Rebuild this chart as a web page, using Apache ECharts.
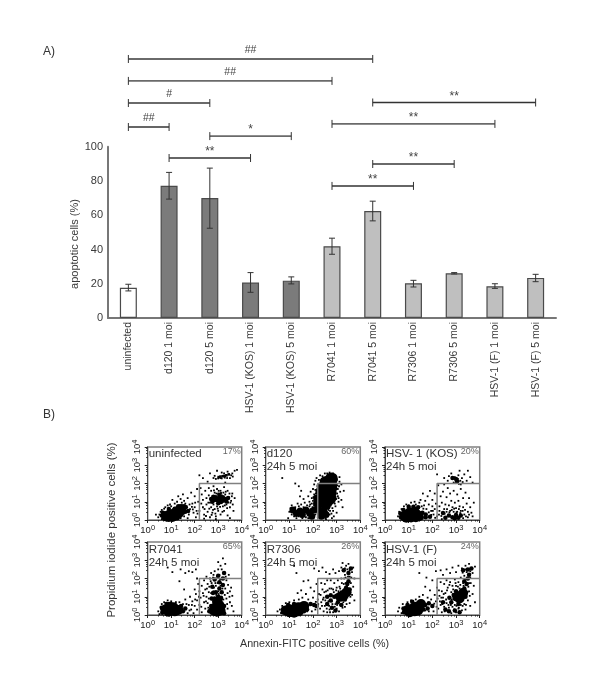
<!DOCTYPE html>
<html><head><meta charset="utf-8"><style>html,body{margin:0;padding:0;background:#fff}#c{width:600px;height:676px}</style>
<script src="https://cdn.jsdelivr.net/npm/echarts@6/dist/echarts.min.js"></script></head>
<body><div id="c"></div><script>
const categories=['uninfected','d120 1 moi','d120 5 moi','HSV-1 (KOS) 1 moi','HSV-1 (KOS) 5 moi','R7041 1 moi','R7041 5 moi','R7306 1 moi','R7306 5 moi','HSV-1 (F) 1 moi','HSV-1 (F) 5 moi'];
const values=[17.7,77.2,70,20.7,21.8,41.9,62.4,20.3,26.1,18.5,23.4];
const errLow=[15.8,69.4,52.4,15,19.9,37.2,56.7,18.1,25.7,17.3,21.2];
const errHigh=[19.7,85,87.5,26.5,24,46.6,68.2,22,26.5,20,25.5];
const yTicks=[0,20,40,60,80,100];
// significance brackets: from category, to category, level on the % scale, mark, dark?
const brackets=[[0,6,151.2,'##',0],[0,5,138.4,'##',0],[0,2,125.5,'#',0],[0,1,111.5,'##',1],[2,4,106.2,'*',0],[1,3,93.4,'**',1],
[6,10,125.8,'**',1],[5,9,113.3,'**',0],[6,8,89.9,'**',0],[5,7,77.1,'**',1]];
const panelNames=['uninfected','d120','HSV- 1 (KOS)','R7041','R7306','HSV-1 (F)'];
const panelPct=['17%','60%','20%','65%','26%','24%'];
const panelSub=['','24h 5 moi','24h 5 moi','24h 5 moi','24h 5 moi','24h 5 moi'];
const decades=[0,1,2,3,4];
// flow cytometry events in decades (log10 Annexin, log10 PI)
const p1Core=[[.78,.2],[.9,.28],[1,.3],[1.12,.35],[1.22,.45],[1.35,.55],[1.42,.6],[.88,.16],[1.05,.16],[1.2,.24],[1.32,.36]];
const p1Mid=[[.6,.25],[.65,.4],[.75,.05],[1.55,.75],[1.5,.4],[1.3,.75],[1.15,.62],[.9,.6],[2.7,1.15],[2.75,1],[2.9,1.25],[3,.92],[3.2,1.25],[3.35,1.02],[3.42,1.2],[3.05,1.38],[2.8,1.28],[2.85,1.1],[2.98,1.08],[3.1,1.12],[3.2,1.05],[3.3,1.15],[3.05,1.22],[3.12,.98],[1.6,.45],[1.72,.5],[1.62,.7]];
const p1Thin=[[3.02,2.35],[3.1,2.38],[3.2,2.4],[3.28,2.42],[3.35,2.45],[3.45,2.5]];
const p1Dots=[[.35,.3],[.45,.15],[.5,.3],[.55,.45],[.6,.05],[.6,.55],[.65,.35],[.7,.62],[.75,.7],[.8,.05],[.85,.8],[.95,.85],[1,.75],[1.05,1.1],[1.15,.9],[1.25,1],[1.3,1.3],[1.4,1.15],[1.45,.95],[1.5,1.4],[1.55,1.05],[1.6,.9],[1.65,.75],[1.7,1.2],[1.75,.3],[1.8,.6],[1.85,1.5],[1.9,.9],[1.95,.4],[2,1.3],[2,.7],[2.05,.15],[2.1,1.7],[2.15,1],[2.2,.5],[1.4,.1],[1.55,.2],[1.7,.1],[2.25,1.75],[2.3,1.4],[2.35,1.1],[2.35,.7],[2.4,.3],[2.45,1.6],[2.5,1.2],[2.5,.85],[2.55,.45],[2.6,1.75],[2.6,1.35],[2.65,.95],[2.65,.15],[2.7,1.6],[2.7,.7],[2.75,1.3],[2.75,.4],[2.8,1.85],[2.8,.85],[2.85,1.5],[2.85,.6],[2.9,.2],[2.95,1.7],[2.95,.75],[3,1.45],[3,.5],[3.05,.9],[3.1,1.6],[3.1,.3],[3.15,1.35],[3.2,.75],[3.25,1.8],[3.25,.5],[3.3,1.4],[3.35,.85],[3.4,1.6],[3.4,.25],[3.45,1.25],[3.5,.7],[3.55,1.05],[3.6,1.45],[3.65,.5],[3.7,1.2],[2.55,2.1],[2.65,2.55],[2.8,2.3],[2.9,2.25],[2.95,2.7],[3.1,2.3],[3.15,2.6],[3.28,2.32],[3.4,2.65],[3.5,2.3],[3.6,2.55],[3.7,2.7],[3.8,2.75],[2.35,2.3],[2.2,2.45],[3.3,2.05],[2.9,.05],[3.5,.1],[2.4,.08],[1.78,.85],[1.88,.72],[1.92,.58],[2.02,.95],[2.08,.5],[2.12,.35],[2.28,.9],[2.42,.6],[2.48,.22],[2.58,.95],[2.62,.62],[2.68,1.15],[2.72,.28],[2.78,.55],[2.82,1.62],[2.88,.35],[2.92,1.45],[2.98,.62],[3.02,1.6],[3.08,.72],[3.12,1.48],[3.18,.45],[3.22,1.5],[3.28,.8],[3.32,1.55],[3.38,.65],[3.42,.95],[3.48,1.45],[3.52,.95],[3.58,1.3],[3.62,.85],[2.85,2.42],[3,2.28],[3.15,2.28],[3.25,2.55],[3.38,2.3],[3.55,2.45],[3.62,2.38]];
const p2Core=[[2.55,2.05],[2.72,2.05],[2.78,2.25],[2.6,1.85],[2.75,1.75],[2.6,1.6],[2.5,1.55],[2.65,1.45],[2.72,1.2],[2.5,1.25],[2.62,1.1],[2.45,1.05]];
const p2Mid=[[2.15,.9],[2.2,.65],[2.3,.4],[2.35,.2],[2.45,.55],[2.55,.3],[2.6,.75],[2.15,1.2],[2.25,1.55],[2.3,1.85],[2.45,2.15],[2.88,1.9],[2.85,1.5],[1.15,.55],[1.3,.35],[1.45,.5],[1.55,.3],[1.7,.55],[1.85,.4],[1.95,.2],[2.05,.55]];
const p2Dots=[[.7,2.3],[1.2,.2],[1,.45],[1.05,.65],[1.1,.3],[1.25,.7],[1.3,.1],[1.4,.75],[1.4,.2],[1.5,.85],[1.55,.1],[1.6,.7],[1.65,.95],[1.7,.15],[1.75,.8],[1.8,1.3],[1.8,.1],[1.85,1],[1.85,.75],[1.9,1.55],[1.9,.6],[1.95,1.2],[1.95,.9],[2,1.7],[2,.1],[2,1.05],[2.05,1.95],[2.05,1.4],[2.05,.8],[2.1,2.15],[2.1,.3],[2.1,1.65],[2.15,2.3],[2.2,1.9],[2.2,.15],[2.25,2.2],[2.3,2.45],[2.3,.75],[2.4,2.4],[2.45,.15],[2.5,2.55],[2.55,.05],[2.6,2.55],[2.65,.55],[2.7,.3],[2.7,2.6],[2.75,.8],[2.8,.1],[2.85,2.55],[2.85,.5],[2.95,2.4],[3,2.2],[3.02,1.9],[3.05,1.7],[3.05,1.3],[3.08,1],[2.95,.75],[3,.4],[3.12,2.35],[3.15,1.55],[3.2,1.95],[3.2,1.1],[3.25,.7],[3.3,1.6],[1.25,2],[1.4,1.85],[1.5,1.6],[.95,.1],[1.6,1.15],[1.45,1.3],[1.1,.8],[1.2,.45],[1.35,.9],[1.5,.2],[1.62,.45],[1.78,.25],[1.88,.85],[1.92,.3],[1.98,.7],[2.02,1.25],[2.08,.45],[2.12,1.45],[2.18,1.7],[2.22,.35],[2.28,1.3],[2.32,.55],[2.38,.7],[2.42,.3],[2.48,.8],[2.52,.1],[2.58,.45],[2.62,.2],[2.68,.72],[2.72,.5],[2.78,.35],[2.82,.65],[2.88,.2],[2.92,.9],[2.98,1.15],[3.02,1.45],[3,1.7],[3.1,1.85],[3.12,2.1],[3.08,1.2]];
const p3Core=[[.82,.2],[.95,.3],[1.05,.42],[1.15,.28],[1.25,.45],[1.35,.3],[.9,.12],[1.1,.14],[1.3,.15],[1.42,.2]];
const p3Mid=[[.68,.15],[.65,.35],[.78,.55],[1.58,.4],[1.72,.3],[1.9,.18],[1.55,.12],[1.72,.15],[2.55,.12],[2.7,.25],[2.85,.15],[3,.28],[3.1,.12],[3.2,.25],[2.45,.38],[2.95,.1],[3.05,2.12],[3,2.25],[2.85,2.3],[1.2,.72],[1.4,.7],[1,.72]];
const p3Dots=[[.55,.2],[.6,.45],[.65,.1],[.7,.6],[.8,.75],[.9,.85],[1,.8],[1.1,.95],[1.25,1],[1.3,.85],[1.45,.95],[1.5,1.1],[1.55,.75],[1.6,1.45],[1.65,.8],[1.7,1.05],[1.75,.6],[1.8,1.3],[1.85,.85],[1.9,1.6],[1.95,.5],[2,1.1],[2,.75],[2.05,.3],[2.1,1.45],[2.1,.6],[2.15,.9],[2.2,.2],[2.25,1.9],[2.3,.75],[2.3,.5],[2.35,1.3],[2.4,.95],[2.45,1.55],[2.5,.6],[2.5,1.95],[2.55,.85],[2.6,1.25],[2.6,.45],[2.65,1.75],[2.7,.8],[2.75,1.45],[2.75,.5],[2.8,1.05],[2.85,.7],[2.9,1.6],[2.9,.45],[2.95,.95],[3,.65],[3.05,1.4],[3.05,.45],[3.1,1.05],[3.15,.75],[3.2,1.7],[3.2,.5],[3.3,1.2],[3.3,.7],[3.35,.3],[3.4,1.5],[3.45,.9],[3.5,.45],[3.55,1.2],[3.6,.7],[3.7,.2],[3.75,.95],[2.5,2.3],[2.65,2.15],[2.7,2.4],[2.8,2.55],[2.9,2.05],[3.1,2.45],[3.15,2.7],[3.2,1.95],[3.25,2.3],[3.35,2.5],[3.45,2.15],[3.5,2.7],[3.6,2.35],[3.7,2.05],[2.2,2.5],[2.4,.05],[2.9,.05],[3.3,.1],[3.5,.15],[1.62,.62],[1.85,.42],[1.95,.28],[2.02,.5],[2.12,.12],[2.28,.3],[2.38,.22],[2.52,.35],[2.62,.6],[2.72,.42],[2.82,.55],[2.92,.62],[3.02,.42],[3.12,.6],[3.18,.38],[3.28,.5],[3.38,.55],[3.42,.2],[3.55,.3],[3.65,.4],[2.95,2.35],[2.98,2.02],[3.08,2.25],[3.12,1.98],[3.18,2.15],[3.28,2.08]];
const p4Core=[[.75,.3],[.88,.18],[1,.3],[1.15,.2],[1.3,.28],[.95,.45],[1.1,.42],[2.8,.25],[2.95,.18],[3.1,.25],[2.9,.42],[3.05,.55],[2.95,.72]];
const p4Mid=[[1.5,.2],[1.6,.35],[.62,.12],[.6,.4],[1.42,.5],[.8,.6],[2.62,.2],[2.7,.5],[2.85,.9],[3,1],[3.1,.85],[2.9,1.25],[3.05,1.45],[3.15,1.25],[3.2,1.65],[3.05,1.8],[3.2,2],[3.25,2.3],[3.25,.1],[3.25,.5],[2.75,1.55],[2.85,1.95],[2.72,.9],[2.78,1.2],[3,2.15],[3.12,.95]];
const p4Dots=[[.45,.2],[.5,.05],[.55,.45],[.6,.6],[.7,.7],[.85,.8],[1,.75],[1.2,.7],[1.35,.7],[1.5,.6],[1.6,.85],[1.7,.1],[1.75,.55],[1.8,1],[1.85,.3],[1.9,.75],[1.95,.1],[2,.5],[2,1.4],[2.05,1.15],[2.1,.8],[2.1,.3],[2.15,1.7],[2.2,.55],[2.2,1.3],[2.25,.95],[2.3,.15],[2.3,1.6],[2.35,1.2],[2.4,.7],[2.4,1.9],[2.45,.35],[2.45,1.4],[2.5,1],[2.5,2.1],[2.55,.65],[2.55,1.7],[2.6,1.25],[2.6,.9],[2.65,2],[2.7,1.2],[2.7,2.3],[2.75,.85],[2.8,1.3],[2.8,2.2],[2.85,2.4],[2.9,1.6],[2.95,2.1],[3,2.5],[3,1.3],[3.05,2.2],[3.1,2.7],[3.1,1.6],[3.15,2.5],[3.3,1.45],[3.35,1.9],[3.35,.9],[3.4,1.2],[3.4,.35],[3.45,2.2],[3.5,.7],[3.55,1.5],[.85,2.6],[1.05,2.35],[1.4,2.5],[1.6,2.3],[1.75,2.4],[1.9,2.35],[2.05,2.5],[2.1,2],[3.2,3.1],[3,2.9],[3.65,.2],[3.3,2.8],[1.35,1.85],[1.55,1.4],[1.65,.6],[1.78,.25],[1.88,.55],[2.02,.85],[2.18,1],[2.28,.45],[2.38,1.05],[2.48,.75],[2.52,1.45],[2.58,.4],[2.62,1.55],[2.68,1.85],[2.72,1.75],[2.78,2.05],[2.82,1.5],[2.88,1.75],[2.92,1.1],[2.98,1.75],[3.02,1.15],[3.08,1.95],[3.12,1.75],[3.18,1.45],[3.22,.85],[3.28,1.1],[3.32,2.1],[3.38,.6],[3.42,1.65],[3.48,1],[3.5,1.3],[3.58,.5],[3.6,1.05]];
const p5Core=[[.85,.25],[1,.32],[1.12,.22],[1.25,.35],[1.38,.42],[1.5,.4],[1.62,.5],[1,.15],[1.2,.12],[1.4,.2],[3.15,1],[3.3,1.1],[3.42,1.25]];
const p5Mid=[[.72,.15],[.75,.35],[.95,.55],[1.2,.6],[1.75,.5],[1.9,.6],[2.05,.55],[2.15,.5],[1.75,.3],[1.62,.2],[2.6,1],[2.75,1.08],[2.9,1],[3,1.05],[3.4,1.5],[3.45,1.7],[3.5,1.85],[3.4,1.35],[3.5,2.3],[3.6,2.55],[3.3,2.45],[3.55,1.4],[3.35,.85],[3.05,.7],[2.8,.4],[2.95,.25],[2.6,.6],[2.75,.8],[3.2,.55]];
const p5Dots=[[.5,.2],[.6,.3],[.65,.1],[.7,.5],[.85,.65],[1,.7],[1.2,.8],[1.4,.85],[1.55,.95],[1.7,1.15],[1.75,.2],[1.8,.85],[1.9,1.5],[1.95,.2],[2,.95],[2.05,1.3],[2.1,.3],[2.15,1.7],[2.2,.85],[2.25,1.15],[2.3,.35],[2.35,1.75],[2.35,.7],[2.4,1.4],[2.45,.95],[2.45,.2],[2.5,1.7],[2.5,.5],[2.55,1.3],[2.6,.15],[2.6,1.9],[2.65,.75],[2.7,1.45],[2.7,.3],[2.75,1.9],[2.8,.75],[2.85,1.4],[2.85,.15],[2.9,1.75],[2.95,.6],[3,1.5],[3,.35],[3.05,1.9],[3.1,.2],[3.15,1.45],[3.15,.55],[3.2,2],[3.2,.8],[3.25,.4],[3.3,1.7],[3.35,2.2],[3.35,.45],[3.4,2.7],[3.45,.95],[3.5,1.15],[3.55,.65],[3.55,2.1],[3.6,1.75],[3.65,2.35],[3.65,1.1],[3.7,1.55],[3.75,2],[3.75,.8],[2.4,2.6],[2.55,2.35],[2.7,2.25],[2.85,2.5],[2.95,2.3],[3.1,2.4],[3.2,2.6],[3.25,2.85],[3.5,2.8],[3.7,2.6],[1.3,2.3],[1.2,2.7],[1.6,1.85],[1.8,1.9],[2.05,2.55],[2.25,2.4],[1.5,1.35],[1.35,1.2],[2.12,.72],[2.22,.6],[2.32,1.1],[2.38,.5],[2.42,.85],[2.48,1.25],[2.52,.8],[2.58,.35],[2.62,1.35],[2.68,.5],[2.72,.15],[2.78,1.45],[2.82,.6],[2.88,1.25],[2.92,.45],[2.98,1.35],[3.02,.55],[3.08,1.3],[3.12,1.55],[3.18,1.3],[3.22,1.75],[3.28,1.35],[3.28,.7],[3.32,2],[3.38,1.75],[3.38,2.05],[3.42,.6],[3.48,2.1],[3.52,1.45],[3.58,1],[3.62,2.05],[3.45,2.5],[3.35,2.55],[3.55,2.45]];
const p6Core=[[.95,.25],[1.08,.3],[1.2,.38],[1.32,.45],[1.45,.5],[1.52,.6],[1.05,.15],[1.25,.2],[1.4,.25],[3.05,1],[3.2,1.05],[3.3,1.2],[3.15,.9]];
const p6Mid=[[.8,.15],[.78,.35],[.95,.55],[1.15,.72],[1.7,.55],[1.85,.65],[2,.5],[1.62,.3],[1.8,.35],[2.9,1.1],[3,1.3],[3.35,1.45],[3.45,1.7],[3.5,2],[3.55,2.2],[3.3,2.45],[3.5,2.5],[3.65,2.55],[3.4,1],[3.1,.6],[2.8,.7],[2.55,.3],[2.7,.2],[2.95,.25],[3.15,.15],[2.45,.7],[3.35,1.85],[2.72,.95]];
const p6Dots=[[.55,.2],[.6,.4],[.7,.1],[.75,.6],[.85,.45],[.95,.7],[1.1,.8],[1.3,.85],[1.45,1],[1.6,1.1],[1.7,.25],[1.8,.95],[1.85,.2],[1.9,1.35],[1.95,.85],[2.05,.2],[2.1,1.1],[2.15,.75],[2.2,1.5],[2.25,.35],[2.3,1.05],[2.35,1.8],[2.35,.55],[2.4,1.3],[2.4,.15],[2.45,.95],[2.5,1.7],[2.5,.45],[2.55,1.2],[2.6,1.9],[2.6,.65],[2.65,1.5],[2.7,.95],[2.7,.4],[2.75,1.8],[2.8,1.25],[2.8,.1],[2.85,.45],[2.85,1.6],[2.9,.85],[2.95,1.95],[2.95,.55],[3,.15],[3,1.6],[3.05,.75],[3.1,1.8],[3.1,.35],[3.15,1.45],[3.2,.55],[3.2,2.05],[3.25,.8],[3.25,.25],[3.3,1.75],[3.35,.6],[3.35,2.15],[3.4,1.3],[3.4,.3],[3.45,2.35],[3.5,.8],[3.55,1.3],[3.55,1.75],[3.6,.5],[3.6,2.05],[3.7,1.15],[3.7,2.3],[3.75,1.6],[3.8,.7],[3.8,2.65],[2.35,2.45],[2.45,2.2],[2.6,2.5],[2.75,2.3],[2.85,2.6],[3,2.35],[3.1,2.7],[3.25,2.55],[3.4,2.7],[3.55,2.8],[1.45,2.3],[1.75,2.05],[2,1.9],[2.15,2.4],[1.7,1.55],[2.08,.62],[2.18,.45],[2.22,.9],[2.28,1.35],[2.32,.75],[2.38,.95],[2.42,.6],[2.48,1.15],[2.52,.2],[2.58,.85],[2.62,1.35],[2.68,.55],[2.72,1.65],[2.78,.55],[2.82,.85],[2.88,1.4],[2.92,.3],[2.98,1.75],[3.02,.5],[3.08,1.55],[3.12,.4],[3.18,1.65],[3.22,1.4],[3.28,.5],[3.32,1.6],[3.38,1.95],[3.42,.55],[3.48,1.25],[3.52,1.55],[3.58,1.05],[3.62,1.75],[3.42,2.5],[3.28,2.32],[3.6,2.4]];
const panelCore=[p1Core,p2Core,p3Core,p4Core,p5Core,p6Core];
const panelMid=[p1Mid,p2Mid,p3Mid,p4Mid,p5Mid,p6Mid];
const panelDots=[p1Dots,p2Dots,p3Dots,p4Dots,p5Dots,p6Dots];
const panelThin=[p1Thin,[],[],[],[],[]];
const gateX=2.2, gateY=2;

const FONT='"Liberation Sans",Arial,sans-serif';
const toVal=p=>[Math.pow(10,p[0]),Math.pow(10,p[1])];
const cols=[[147.7,241.7],[265.7,360.3],[385,479.7]], rows=[[447,520],[542,615]];
const grids=[{left:108,right:44,top:146.7,height:171.3}], xAxes=[{
  type:'category',data:categories,gridIndex:0,axisTick:{show:false},
  axisLine:{lineStyle:{color:'#777',width:2}},
  axisLabel:{rotate:90,interval:0,color:'#3a3a3a',fontSize:10.5,fontFamily:FONT,margin:4}
}], yAxes=[{
  type:'value',gridIndex:0,min:0,max:100,interval:yTicks[1]-yTicks[0],splitLine:{show:false},axisTick:{show:false},
  axisLine:{show:true,lineStyle:{color:'#777',width:2}},
  axisLabel:{color:'#3a3a3a',fontSize:11,fontFamily:FONT,margin:5}
}];
const series=[{
  type:'bar',xAxisIndex:0,yAxisIndex:0,barWidth:17,data:values.map((v,i)=>({value:v,itemStyle:{color:i==0?'#fff':i<5?'#7b7b7b':'#bfbfbf',borderColor:'#4a4a4a',borderWidth:1.2}}))
},{
  type:'custom',xAxisIndex:0,yAxisIndex:0,z:5,data:categories.map((c,i)=>[i,errLow[i],errHigh[i]]),encode:{x:0,y:[1,2]},
  renderItem(p,api){const a=api.coord([api.value(0),api.value(1)]),b=api.coord([api.value(0),api.value(2)]);const s={stroke:'#333',lineWidth:1};
    return {type:'group',children:[{type:'line',shape:{x1:a[0],y1:a[1],x2:b[0],y2:b[1]},style:s},{type:'line',shape:{x1:a[0]-3,y1:a[1],x2:a[0]+3,y2:a[1]},style:s},{type:'line',shape:{x1:b[0]-3,y1:b[1],x2:b[0]+3,y2:b[1]},style:s}]};}
},{
  type:'custom',xAxisIndex:0,yAxisIndex:0,z:5,clip:false,data:brackets,encode:{x:[0,1],y:2},
  renderItem(p,api){const d=brackets[p.dataIndex];const a=api.coord([d[0],d[2]]),b=api.coord([d[1],d[2]]);const col=d[4]?'#333':'#6a6a6a';const s={stroke:col,lineWidth:d[4]?1.4:1.9};const t={stroke:'#333',lineWidth:1};
    return {type:'group',children:[{type:'line',shape:{x1:a[0],y1:a[1],x2:b[0],y2:b[1]},style:s},{type:'line',shape:{x1:a[0],y1:a[1]-4,x2:a[0],y2:a[1]+4},style:t},{type:'line',shape:{x1:b[0],y1:b[1]-4,x2:b[0],y2:b[1]+4},style:t},
      {type:'text',style:{x:(a[0]+b[0])/2,y:a[1]-(d[3][0]=='#'?3:0),text:d[3],textAlign:'center',textVerticalAlign:'bottom',fill:'#444',font:(d[3][0]=='#'?'10.5px ':'12px ')+FONT}}]};}
}];
const labelRich={a:{fontSize:9.5,fontFamily:FONT,color:'#222'},b:{fontSize:7.5,fontFamily:FONT,color:'#222',verticalAlign:'top',padding:[0,0,5,0]}};
const fmt=v=>'{a|10}{b|'+Math.round(Math.log10(v))+'}';
const graphic=[
 {type:'text',left:43,top:46,style:{text:'A)',font:'12px '+FONT,fill:'#333'}},
 {type:'text',left:43,top:409,style:{text:'B)',font:'12px '+FONT,fill:'#333'}},
 {type:'text',x:75,y:244,rotation:Math.PI/2,style:{text:'apoptotic cells (%)',font:'11px '+FONT,fill:'#3a3a3a',textAlign:'center',textVerticalAlign:'middle'}},
 {type:'text',left:240,top:639,style:{text:'Annexin-FITC positive cells (%)',font:'10.7px '+FONT,fill:'#333'}},
 {type:'text',x:112,y:530,rotation:Math.PI/2,style:{text:'Propidium iodide positive cells (%)',font:'11.5px '+FONT,fill:'#333',textAlign:'center',textVerticalAlign:'middle'}}
];
panelNames.forEach((n,i)=>{
  const g=i+1,c=cols[i%3],r=rows[i<3?0:1];
  grids.push({left:c[0],width:c[1]-c[0],top:r[0],height:r[1]-r[0],show:true,borderColor:'#808080',borderWidth:1.5,backgroundColor:'transparent'});
  const ax=(rot,m)=>({type:'log',logBase:10,gridIndex:g,min:Math.pow(10,decades[0]),max:Math.pow(10,decades[4]),interval:1,splitLine:{show:false},
    axisLine:{lineStyle:{color:'#444',width:1}},axisTick:{length:3,lineStyle:{color:'#222'}},minorTick:{show:true,length:1.5,splitNumber:5,lineStyle:{color:'#222'}},
    axisLabel:{rotate:rot,margin:m,formatter:fmt,rich:labelRich,showMinLabel:true,showMaxLabel:true,hideOverlap:false}});
  xAxes.push(ax(0,4)); yAxes.push(ax(90,4));
  const sym=(arr,size,shape)=>({type:'scatter',xAxisIndex:g,yAxisIndex:g,symbol:shape,symbolSize:size,silent:true,itemStyle:{color:'#000',opacity:1},data:arr.map(toVal)});
  series.push(sym(panelCore[i],i==1?13:10,'circle'),sym(panelMid[i],i==1?7:4.5,'circle'),sym(panelDots[i],1.8,'rect'),sym(panelThin[i],2.6,'rect'));
  series.push({type:'line',xAxisIndex:g,yAxisIndex:g,symbol:'none',silent:true,z:4,lineStyle:{color:'#808080',width:1.5},
    data:[[gateX,0],[gateX,gateY],[4,gateY]].map(toVal)});
  const dy=i<3?0.5:1.5;
  graphic.push({type:'text',left:c[0]+1,top:r[0]+dy,z:10,style:{text:n,font:'11.5px '+FONT,fill:'#333'}});
  if(panelSub[i])graphic.push({type:'text',left:c[0]+1,top:r[0]+dy+13.5,z:10,style:{text:panelSub[i],font:'11.5px '+FONT,fill:'#333'}});
  graphic.push({type:'text',right:600-c[1]+1,top:r[0],z:10,style:{text:panelPct[i],font:'9px '+FONT,fill:'#666'}});
});
const chart=echarts.init(document.getElementById('c'),null,{renderer:'canvas'});
chart.setOption({animation:false,backgroundColor:'#fff',grid:grids,xAxis:xAxes,yAxis:yAxes,series,graphic});
</script></body></html>
